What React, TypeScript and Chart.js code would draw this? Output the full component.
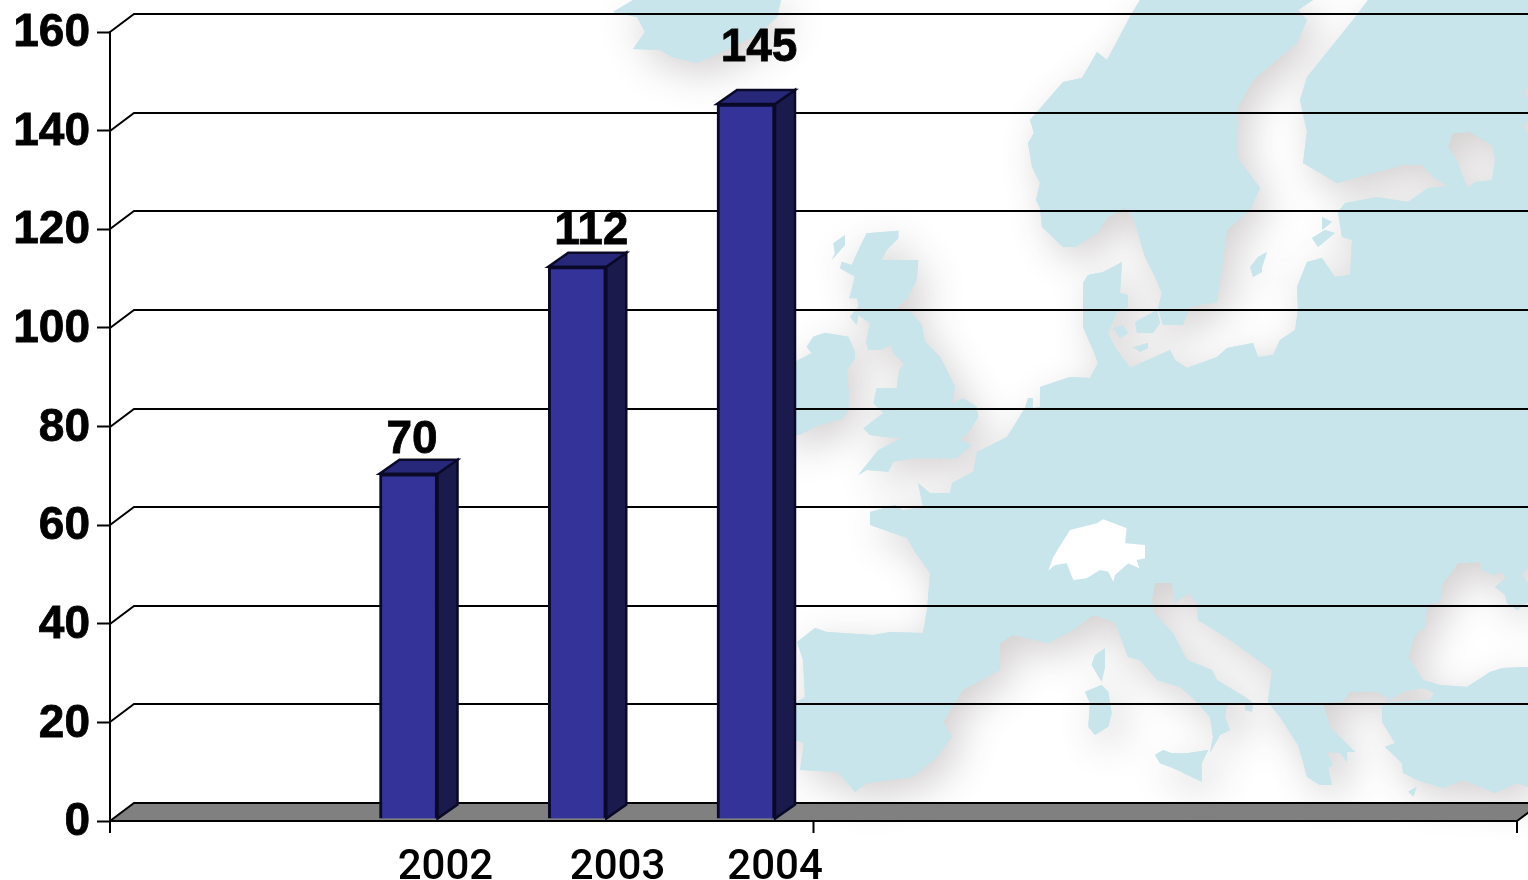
import React, { useEffect, useRef } from "react";
import { Chart, registerables } from "chart.js";

Chart.register(...registerables);

// ---- data ----
const years = [2002, 2003, 2004];
const values = [70, 112, 145];
const yTickStep = 20;
const yMax = 160;

// ---- layout of the picture (not data) ----
const xMin = 2000.231;
const xMax = 2008.569;
const xLabelShift = [0.219, 0.239, 0.172];
const valueLabelOffset = [[3.5, -23], [14, -25], [13, -45]];
const depth = { gridX: 24, gridY: -18, barX: 20, barY: -14, barLift: -2 };

// ---- decorative background map (traced outlines, canvas pixels) ----
type P = number[][];
const crop = (ox: number, oy: number, pts: P): P => pts.map(([x, y]) => [x / 3 + ox, y / 3 + oy]);

const mapMain: P = [
  [1083, 283], [1088, 275], [1103, 272], [1122, 262], [1120, 293], [1128, 295], [1128, 307], [1117, 312], [1108, 333],
  [1115, 347], [1130, 368], [1170, 350], [1175, 360], [1187, 368], [1217, 357], [1227, 348], [1253, 343], [1258, 357],
  [1273, 355], [1280, 340], [1295, 330], [1298, 310], [1297, 287], [1307, 262], [1322, 258], [1335, 277], [1350, 275],
  [1352, 240], [1342, 237], [1338, 212], [1345, 203], [1377, 197], [1408, 202], [1428, 188], [1448, 186], [1433, 177],
  [1422, 165], [1403, 165], [1337, 183], [1303, 163], [1307, 132], [1300, 100], [1307, 77], [1353, 20], [1368, 0],
  [1528, 0], [1528, 787], [1517, 783], [1495, 793], [1463, 780], [1443, 788], [1417, 780], [1403, 773], [1402, 763],
  [1385, 747], [1395, 743], [1382, 722], [1382, 705], [1387, 702], [1403, 692], [1423, 688], [1434, 693], [1430, 700],
  [1393, 702], [1378, 692], [1350, 692], [1342, 702], [1323, 703], [1330, 727], [1355, 752], [1347, 752], [1347, 762],
  [1340, 753], [1327, 752], [1333, 765], [1328, 768], [1332, 785], [1320, 785], [1307, 777], [1302, 758], [1298, 745],
  [1280, 717], [1268, 702], [1272, 670], [1230, 640], [1198, 620], [1197, 603], [1188, 593], [1175, 603], [1172, 583],
  [1155, 583], [1152, 598], [1153, 612], [1173, 633], [1187, 660], [1212, 670], [1217, 680], [1245, 697], [1253, 703],
  [1252, 712], [1245, 710], [1245, 703], [1227, 705], [1225, 717], [1230, 730], [1220, 735], [1210, 753], [1213, 737],
  [1210, 717], [1195, 700], [1180, 687], [1157, 680], [1140, 660], [1128, 657], [1115, 622], [1093, 615], [1073, 630],
  [1048, 643], [1013, 635], [1000, 643], [1000, 670], [963, 690], [943, 722], [952, 737], [937, 757], [913, 777],
  [867, 783], [855, 792], [838, 772], [800, 770], [804, 743], [780, 735], [780, 712], [805, 697], [803, 660], [797, 642],
  [815, 628], [827, 632], [873, 635], [890, 632], [923, 633], [927, 610], [930, 573], [915, 552], [907, 538], [870, 525],
  [870, 512], [895, 505], [903, 510], [923, 507], [918, 483], [930, 493], [950, 493], [952, 483], [973, 472], [977, 452],
  [1007, 437], [1025, 408], [1028, 398], [1033, 398], [1033, 408], [1040, 407], [1040, 387], [1070, 377], [1090, 378],
  [1098, 363], [1093, 350], [1083, 327],
];
const mapScandinavia: P = [
  [1140, 0], [1132, 13], [1107, 60], [1097, 52], [1082, 78], [1063, 82], [1037, 112], [1030, 120], [1034, 133], [1028, 143],
  [1032, 167], [1040, 183], [1036, 200], [1040, 208], [1042, 227], [1063, 247], [1075, 247], [1097, 233], [1108, 217],
  [1125, 208], [1133, 217], [1145, 257], [1155, 277], [1162, 293], [1158, 308], [1163, 325], [1183, 325], [1190, 307],
  [1217, 302], [1227, 230], [1250, 210], [1260, 188], [1237, 157], [1238, 107], [1253, 80], [1297, 43], [1307, 20],
  [1298, 10], [1313, 0],
];
const mapBlackSea: P = [
  [1458, 563], [1480, 562], [1482, 570], [1493, 575], [1500, 572], [1507, 577], [1495, 587], [1505, 595], [1507, 603],
  [1517, 610], [1528, 602], [1528, 667], [1503, 668], [1490, 672], [1467, 687], [1440, 685], [1423, 680], [1408, 657],
  [1415, 635], [1425, 627], [1427, 605], [1440, 602], [1442, 585],
];
const mapLadoga: P = [
  [1448, 147], [1453, 133], [1470, 132], [1492, 145], [1495, 160], [1492, 180], [1475, 182], [1468, 188], [1463, 177], [1457, 160],
];
const mapInlets: P[] = [
  [[1528, 87], [1523, 92], [1528, 100]],
  [[1528, 120], [1523, 126], [1528, 135]],
  [[1528, 568], [1521, 575], [1528, 583]],
];
const mapIsles: P[] = [
  // Iceland
  [[633, 0], [613, 12], [637, 17], [645, 32], [633, 49], [660, 50], [672, 57], [697, 63], [720, 53], [760, 33], [777, 17], [781, 0]],
  // Great Britain
  crop(780, 210, [
    [260, 70], [355, 62], [355, 85], [320, 120], [305, 150], [415, 150], [410, 210], [385, 260], [350, 295], [395, 310], [425, 345],
    [435, 395], [480, 440], [525, 530], [515, 580], [550, 565], [590, 590], [595, 620], [570, 660], [540, 690], [575, 705], [530, 745],
    [400, 745], [340, 755], [325, 785], [260, 780], [235, 795], [295, 720], [365, 685], [310, 680], [270, 675], [250, 655], [310, 610],
    [280, 580], [290, 535], [350, 535], [358, 480], [372, 462], [340, 430], [335, 405], [300, 420], [265, 420], [258, 395], [270, 340],
    [235, 315], [230, 345], [210, 320], [235, 290], [232, 265], [208, 265], [225, 200], [180, 175], [185, 155], [215, 165], [240, 110],
  ]),
  crop(780, 210, [[195, 75], [160, 100], [165, 130], [155, 150], [195, 105]]),
  // Ireland
  crop(780, 210, [
    [0, 455], [45, 455], [95, 430], [80, 410], [100, 380], [135, 368], [205, 380], [225, 425], [225, 445], [200, 480], [207, 560],
    [205, 600], [190, 625], [105, 650], [60, 675], [0, 675],
  ]),
  // Corsica, Sardinia
  crop(780, 500, [[975, 445], [945, 465], [935, 495], [965, 545], [975, 500]]),
  crop(780, 500, [[965, 555], [985, 575], [995, 640], [985, 680], [945, 705], [925, 680], [930, 610], [915, 575]]),
  // Sicily, Crete
  crop(1130, 520, [[75, 705], [100, 690], [125, 700], [170, 700], [235, 690], [215, 730], [215, 785], [130, 745], [90, 730]]),
  crop(1130, 520, [[835, 815], [860, 800], [850, 830]]),
  // Gotland, Saaremaa, Hiiumaa
  [[1250, 267], [1258, 257], [1267, 252], [1262, 267], [1262, 272], [1253, 277]],
  [[1322, 217], [1332, 222], [1322, 230]],
  [[1312, 238], [1325, 230], [1335, 233], [1318, 247]],
  // Danish islands
  [[1135, 322], [1157, 310], [1160, 323], [1153, 333], [1137, 333]],
  [[1113, 328], [1123, 325], [1128, 333], [1120, 338]],
  [[1133, 347], [1148, 343], [1148, 348], [1140, 352]],
];
const mapSwitzerland: P = crop(780, 500, [
  [805, 212], [820, 170], [870, 90], [950, 70], [970, 58], [1040, 85], [1035, 130], [1095, 135], [1095, 175], [1070, 180], [1078, 205],
  [1045, 190], [1005, 225], [1000, 245], [985, 215], [960, 210], [920, 235], [880, 240], [860, 190], [825, 195],
]);

const addPoly = (p: Path2D, pts: P) => {
  pts.forEach(([x, y], i) => (i ? p.lineTo(x, y) : p.moveTo(x, y)));
  p.closePath();
};

const barEdge = "#0a0a28";

const chartDecor = {
  id: "chartDecor",
  beforeDraw(chart: any) {
    const { ctx } = chart;
    const land = new Path2D();
    [mapMain, mapScandinavia, mapBlackSea, mapLadoga, ...mapInlets, ...mapIsles].forEach((pts) => addPoly(land, pts));
    const swiss = new Path2D();
    addPoly(swiss, mapSwitzerland);
    ctx.save();
    ctx.fillStyle = "#ffffff";
    ctx.fillRect(0, 0, chart.width, chart.height);
    ctx.shadowColor = "rgba(70,60,60,0.24)";
    ctx.shadowBlur = 38;
    ctx.shadowOffsetX = 10;
    ctx.shadowOffsetY = 12;
    ctx.fillStyle = "#c9e5ec";
    ctx.fill(land, "evenodd");
    ctx.shadowColor = "transparent";
    ctx.filter = "blur(0.7px)";
    ctx.fill(land, "evenodd");
    ctx.fillStyle = "#ffffff";
    ctx.fill(swiss);
    ctx.restore();
  },
  beforeDatasetsDraw(chart: any) {
    const { ctx, chartArea, scales } = chart;
    const y = scales.y;
    const x0 = chartArea.left;
    const x1 = chartArea.right;
    const y0 = Math.round(y.getPixelForValue(0));
    ctx.save();
    // floor
    ctx.beginPath();
    ctx.moveTo(x0, y0);
    ctx.lineTo(x0 + depth.gridX, y0 + depth.gridY);
    ctx.lineTo(x1 + depth.gridX, y0 + depth.gridY);
    ctx.lineTo(x1, y0);
    ctx.closePath();
    ctx.fillStyle = "#808080";
    ctx.fill();
    // wall grid
    ctx.strokeStyle = "#000000";
    ctx.lineWidth = 2;
    y.ticks.forEach((t: any) => {
      const py = Math.round(y.getPixelForValue(t.value));
      ctx.beginPath();
      ctx.moveTo(x0, py);
      ctx.lineTo(x0 + depth.gridX, py + depth.gridY);
      ctx.lineTo(x1 + depth.gridX, py + depth.gridY);
      ctx.stroke();
    });
    // floor front edge and right edge
    ctx.beginPath();
    ctx.moveTo(x0, y0);
    ctx.lineTo(x1, y0);
    ctx.lineTo(x1 + depth.gridX, y0 + depth.gridY);
    ctx.stroke();
    // x axis tick marks
    [x0, (x0 + x1) / 2, x1].forEach((px) => {
      ctx.beginPath();
      ctx.moveTo(px, y0);
      ctx.lineTo(px, y0 + 12);
      ctx.stroke();
    });
    ctx.restore();

    // bars: top and side faces, then the front comes from the library
    ctx.save();
    ctx.translate(0, depth.barLift);
    chart.getDatasetMeta(0).data.forEach((bar: any) => {
      const l = bar.x - bar.width / 2;
      const r = bar.x + bar.width / 2;
      const t = bar.y;
      const b = bar.base;
      const dx = depth.barX;
      const dy = depth.barY;
      ctx.lineWidth = 2.5;
      ctx.strokeStyle = barEdge;
      ctx.lineJoin = "miter";
      ctx.fillStyle = "#1a1a4d";
      ctx.beginPath();
      ctx.moveTo(r, t);
      ctx.lineTo(r + dx, t + dy);
      ctx.lineTo(r + dx, b + dy);
      ctx.lineTo(r, b);
      ctx.closePath();
      ctx.fill();
      ctx.stroke();
      ctx.fillStyle = "#28287a";
      ctx.beginPath();
      ctx.moveTo(l, t);
      ctx.lineTo(l + dx, t + dy);
      ctx.lineTo(r + dx, t + dy);
      ctx.lineTo(r, t);
      ctx.closePath();
      ctx.fill();
      ctx.stroke();
    });
    ctx.restore();
    ctx.save();
    ctx.translate(0, depth.barLift);
  },
  afterDatasetsDraw(chart: any) {
    const { ctx } = chart;
    ctx.restore();
    ctx.save();
    ctx.font = "bold 46px 'Liberation Sans'";
    ctx.fillStyle = "#000000";
    ctx.strokeStyle = "#000000";
    ctx.lineWidth = 0.8;
    ctx.textAlign = "center";
    ctx.textBaseline = "alphabetic";
    chart.getDatasetMeta(0).data.forEach((bar: any, i: number) => {
      const [dx, dy] = valueLabelOffset[i];
      ctx.fillText(String(values[i]), bar.x + dx, bar.y + dy);
      ctx.strokeText(String(values[i]), bar.x + dx, bar.y + dy);
    });
    ctx.restore();
  },
};

export default function App() {
  const ref = useRef<HTMLCanvasElement>(null);
  useEffect(() => {
    document.body.style.margin = "0";
    const chart = new Chart(ref.current!, {
      type: "bar",
      plugins: [chartDecor],
      data: {
        datasets: [
          {
            data: years.map((yr, i) => ({ x: yr, y: values[i] })),
            backgroundColor: "#333399",
            borderColor: barEdge,
            borderWidth: 3,
            barThickness: 58,
          },
        ],
      },
      options: {
        responsive: false,
        animation: false,
        layout: { padding: { top: 32, right: 11, left: 0, bottom: 0 } },
        plugins: { legend: { display: false }, tooltip: { enabled: false } },
        scales: {
          x: {
            type: "linear",
            offset: false,
            min: xMin,
            max: xMax,
            grid: { display: false },
            border: { display: false },
            afterFit: (s: any) => {
              s.height = 59;
            },
            afterBuildTicks: (s: any) => {
              s.ticks = years.map((yr, i) => ({ value: yr + xLabelShift[i] }));
            },
            ticks: {
              autoSkip: false,
              maxRotation: 0,
              padding: 14,
              color: "#000000",
              font: { family: "Roboto", size: 42, weight: 500 },
              callback: (v: any) => String(Math.floor(Number(v))),
            },
          },
          y: {
            min: 0,
            max: yMax,
            afterFit: (s: any) => {
              s.width = 110;
              s.paddingTop = 0;
              s.paddingBottom = 0;
            },
            border: { display: true, color: "#000000", width: 2 },
            grid: { drawOnChartArea: false, tickLength: 13, tickWidth: 2, tickColor: "#000000" },
            ticks: {
              stepSize: yTickStep,
              padding: 7,
              labelOffset: 1.5,
              color: "#000000",
              textStrokeColor: "#000000",
              textStrokeWidth: 0.8,
              font: { family: "Liberation Sans", size: 46, weight: "bold" },
            },
          },
        },
      },
    } as any);
    return () => chart.destroy();
  }, []);
  return <canvas ref={ref} width={1528} height={880} style={{ display: "block" }} />;
}
